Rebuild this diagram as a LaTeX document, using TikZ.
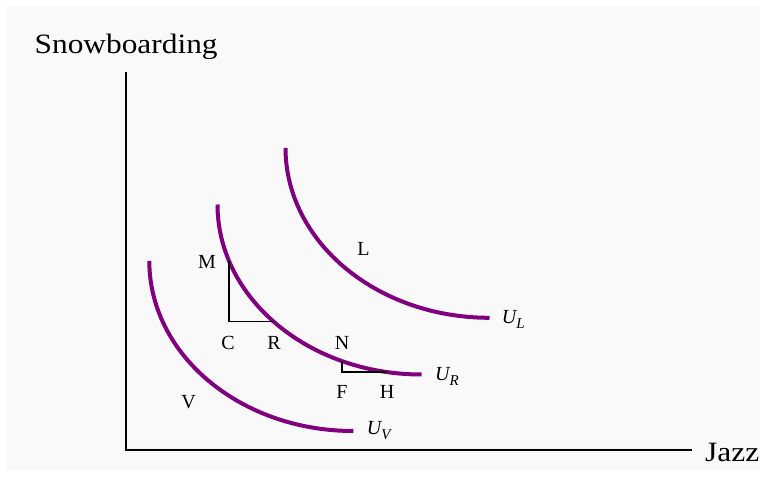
\documentclass[tikz,border=0pt]{standalone}
\usepackage{fontspec}
\setmainfont{Liberation Serif}
\newfontfamily\widefont[FakeStretch=1.12]{Liberation Serif}
\usetikzlibrary{calc}
\definecolor{bgc}{HTML}{F9F9F9}
\definecolor{curvec}{HTML}{800080}
\tikzset{
  icurve/.style={draw=curvec, line width=4pt},
  axisline/.style={draw=black, line width=1.8pt},
  triline/.style={draw=black, line width=1.8pt},
  lbl/.style={inner sep=0pt, font=\fontsize{20}{24}\selectfont, anchor=base},
  ulbl/.style={inner sep=0pt, font=\fontsize{20}{24}\selectfont\itshape, anchor=base west},
  axlbl/.style={inner sep=0pt, font=\fontsize{28}{32}\selectfont\widefont, anchor=base west}
}
\newcommand{\sublbl}[1]{\raisebox{-0.28em}{\fontsize{15}{16}\selectfont #1}}
\begin{document}
\begin{tikzpicture}[x=1pt, y=1pt]
\useasboundingbox (0,0) rectangle (770,480);
\fill[bgc] (6,10) rectangle (760,474);

% axes
\coordinate (O) at (126.3,29.7);
\coordinate (ytop) at (126.3,408);
\coordinate (xend) at (692,29.7);
\draw[axisline] (ytop) -- (O) -- (xend);
\node[axlbl] (ylab) at (34.5,426.7) {Snowboarding};
\node[axlbl] (xlab) at (705,19) {Jazz};

% curve centers
\coordinate (cL) at (489.5,332.2);
\coordinate (cR) at (421.5,275.5);
\coordinate (cV) at (353.3,219);

\draw[icurve] ($(cL)+(-204,0)$) arc[start angle=180, end angle=270, x radius=204pt, y radius=170pt];
\draw[icurve] ($(cR)+(-204,0)$) arc[start angle=180, end angle=270, x radius=204pt, y radius=170pt];
\draw[icurve] ($(cV)+(-204,0)$) arc[start angle=180, end angle=270, x radius=204pt, y radius=170pt];

% triangles on U_R
\coordinate (pM) at ($(cR)+(199.3:204pt and 170pt)$);
\coordinate (pR) at ($(cR)+(223.5:204pt and 170pt)$);
\coordinate (pC) at (pM |- pR);
\draw[triline] (pM) -- (pC) -- (pR);
\coordinate (pN) at ($(cR)+(247:204pt and 170pt)$);
\coordinate (pH) at ($(cR)+(260.2:204pt and 170pt)$);
\coordinate (pF) at (pN |- pH);
\draw[triline] (pN) -- (pF) -- (pH);

% point labels
\node[lbl] (M) at (207,212) {M};
\node[lbl] (L) at (363.5,225) {L};
\node[lbl] (C) at (228,131) {C};
\node[lbl] (R) at (274,131) {R};
\node[lbl] (N) at (342,131) {N};
\node[lbl] (F) at (342,82) {F};
\node[lbl] (H) at (387,82) {H};
\node[lbl] (V) at (188.5,72) {V};

% curve labels
\node[ulbl] (UL) at (501.7,157) {U\sublbl{L}};
\node[ulbl] (UR) at (435,100) {U\sublbl{R}};
\node[ulbl] (UV) at (366.7,45.7) {U\sublbl{V}};
\end{tikzpicture}
\end{document}
